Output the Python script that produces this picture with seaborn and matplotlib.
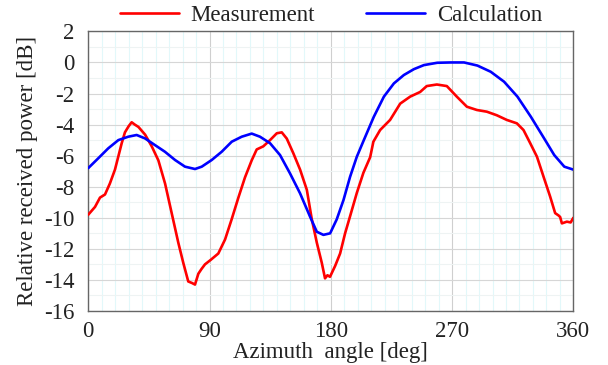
import matplotlib
matplotlib.use("Agg")
import matplotlib.pyplot as plt
import numpy as np
import pandas as pd
import seaborn as sns
from matplotlib.ticker import MultipleLocator

meas_deg = [0, 5, 8.7, 12.4, 16, 19.8, 24.8, 27.2, 30, 32.2, 34.5, 37.2, 42.2, 47.1, 52,
            57, 61.9, 66.8, 70.5, 74.2, 77, 79.2, 81.7, 84, 86.6, 91, 96.5, 101.5, 106.4,
            111.4, 116.3, 121.3, 125, 129.9, 134.9, 139.9, 143.6, 147.3, 152.2, 157.2,
            162.2, 165.9, 169.6, 173.3, 175.7, 177.5, 179.4, 183.2, 186.9, 190.6, 194.3,
            199.3, 204.2, 209.2, 211.6, 216.6, 224, 231.5, 238.9, 246.3, 251.2, 258.7,
            266.1, 273.5, 281, 288.4, 295.8, 303.2, 310.6, 318.1, 323, 328, 333, 337.9,
            342.8, 346.5, 349, 350.2, 351.5, 355.2, 358, 360]
meas_db = [-9.8, -9.3, -8.7, -8.5, -7.8, -6.9, -5.2, -4.5, -4.1, -3.85, -4.0, -4.15, -4.65,
           -5.4, -6.3, -7.8, -9.7, -11.6, -12.9, -14.1, -14.2, -14.3, -13.6, -13.3, -13.0,
           -12.7, -12.3, -11.4, -10.1, -8.7, -7.4, -6.3, -5.6, -5.4, -5.0, -4.56, -4.5,
           -4.9, -5.85, -6.9, -8.2, -10.1, -11.6, -12.9, -13.9, -13.7, -13.8, -13.1, -12.3,
           -11.0, -9.9, -8.4, -7.1, -6.1, -5.1, -4.35, -3.7, -2.65, -2.2, -1.9, -1.52,
           -1.42, -1.52, -2.2, -2.85, -3.06, -3.17, -3.4, -3.7, -3.92, -4.35, -5.2, -6.07,
           -7.36, -8.64, -9.7, -9.85, -9.95, -10.36, -10.25, -10.3, -10.0]

# calculated curve (deg, dB)
calc_deg = [0, 7.4, 14.8, 22.3, 29.7, 35.9, 42.1, 49.5, 56.9, 64.4, 71.8, 79.2, 84.2,
            91.6, 99, 106.5, 113.9, 121.3, 127.4, 134.9, 142.3, 149.7, 157.2, 164.6,
            169.6, 174.5, 179.5, 184.4, 189.4, 194.3, 199.3, 204.5, 211.9, 219.4, 226.8,
            234.2, 241.7, 249.1, 259, 269, 278.9, 288.8, 298.7, 308.6, 318.5, 328.5,
            338.4, 345.8, 353.3, 360]
calc_db = [-6.8, -6.17, -5.53, -5.0, -4.78, -4.67, -4.89, -5.32, -5.75, -6.28, -6.71, -6.86,
           -6.71, -6.28, -5.75, -5.1, -4.78, -4.58, -4.78, -5.2, -5.96, -7.14, -8.43, -9.93,
           -10.9, -11.1, -11.0, -10.1, -8.86, -7.36, -6.07, -5.0, -3.5, -2.2, -1.35, -0.81,
           -0.43, -0.17, -0.02, 0.0, 0.0, -0.2, -0.6, -1.24, -2.2, -3.5, -4.9, -5.96, -6.71,
           -6.9]

df = pd.concat([
    pd.DataFrame({"deg": meas_deg, "db": meas_db, "series": "Measurement"}),
    pd.DataFrame({"deg": calc_deg, "db": calc_db, "series": "Calculation"}),
], ignore_index=True)

sns.set_style("white")
plt.rcParams["font.family"] = ["Liberation Serif", "DejaVu Serif"]
plt.rcParams["axes.unicode_minus"] = False

fig = plt.figure(figsize=(6.08, 3.65), dpi=100)
ax = fig.add_axes([0.1452, 0.148, 0.7978, 0.766])

sns.lineplot(data=df, x="deg", y="db", hue="series",
             palette={"Measurement": "#ff0000", "Calculation": "#0000ff"},
             linewidth=1.9, sort=False, estimator=None, ax=ax, zorder=3)

ax.set_xlim(0, 360)
ax.set_ylim(-16, 2)
ax.xaxis.set_major_locator(MultipleLocator(90))
ax.xaxis.set_minor_locator(MultipleLocator(10))
ax.yaxis.set_major_locator(MultipleLocator(2))
ax.yaxis.set_minor_locator(MultipleLocator(1))

ax.grid(which="minor", axis="x", color="#e2f8fa", linewidth=0.8, zorder=0)
ax.grid(which="major", axis="x", color="#cfcfcf", linewidth=0.8, zorder=0)
ax.grid(which="minor", axis="y", color="#eef3f3", linewidth=0.8, zorder=0)
ax.grid(which="major", axis="y", color="#d6d6d6", linewidth=0.8, zorder=0)
ax.set_axisbelow(True)

ax.tick_params(which="both", direction="in", color="#555555", width=0.9)
ax.tick_params(which="major", length=6, labelsize=16.5, colors="#222222")
ax.tick_params(which="minor", length=5)
ax.tick_params(axis="y", which="major", pad=10)
ax.tick_params(axis="x", which="major", pad=7)
for s in ax.spines.values():
    s.set_color("#666666")
    s.set_linewidth(1.0)

ax.set_xlabel("Azimuth  angle [deg]", fontsize=16.5, color="#222222", labelpad=0.5)
ax.set_ylabel("Relative received power [dB]", fontsize=16.5, color="#222222", labelpad=4)

ax.legend(loc="lower center", bbox_to_anchor=(0.5, 0.985), ncol=2, frameon=False,
          fontsize=16.5, handlelength=2.6, handletextpad=0.5, columnspacing=2.2,
          borderaxespad=0)
for t in ax.get_legend().get_texts():
    t.set_color("#222222")

fig.savefig("out.png", dpi=100)
